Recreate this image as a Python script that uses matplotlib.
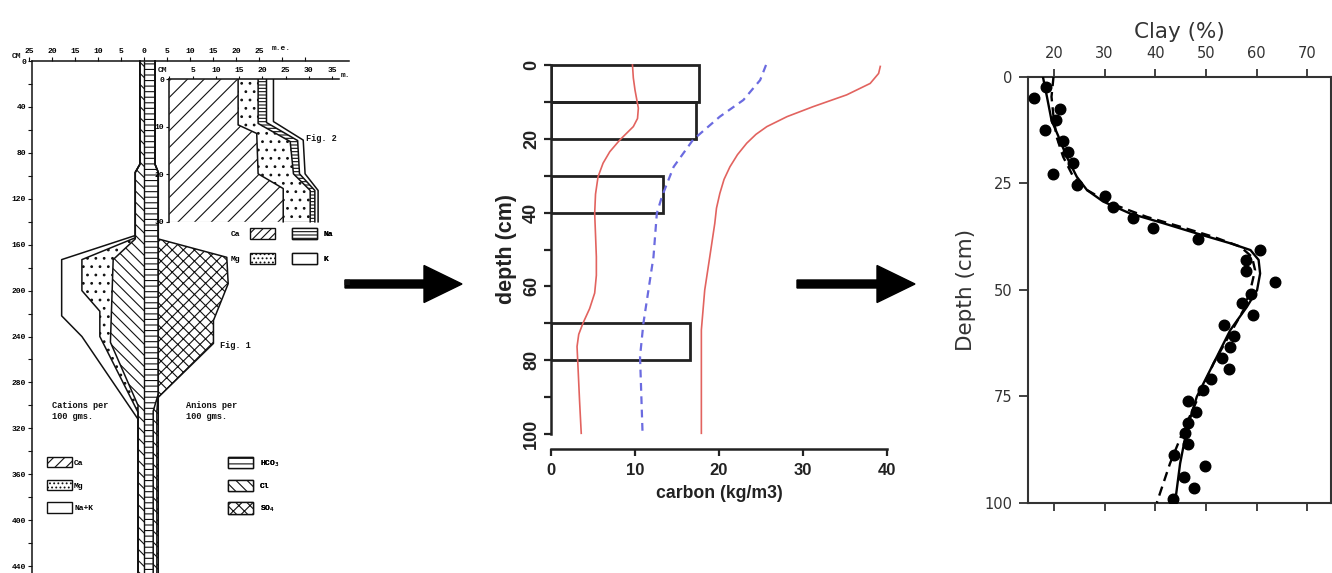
import numpy as np
import matplotlib
matplotlib.use('Agg')
import matplotlib.pyplot as plt
from matplotlib.patches import Patch, FancyArrow

W, H = 1332, 573
plt.rcParams['hatch.linewidth'] = 0.8

# ---------------- Panel 1 : Fig. 1 salt profile (m.e. per 100 g, depth cm) ----------------
f1_xticks = [-25, -20, -15, -10, -5, 0, 5, 10, 15, 20, 25, 30, 35]
f1_xlabels = ['25', '20', '15', '10', '5', '0', '5', '10', '15', '20', '25', '', '']
f1_depth_major = list(range(0, 441, 40))
f1_depth_minor = list(range(20, 441, 40))

# cations (cumulative, plotted to the left)
ca_depth = [0, 90, 97, 155, 173, 245, 300, 446]
ca_cum = [0.9, 0.9, 1.9, 1.9, 6.7, 7.3, 1.3, 1.3]
mg_depth = [0, 90, 97, 154, 173, 200, 218, 240, 306, 446]
mg_cum = [0.9, 0.9, 1.9, 1.9, 13.5, 13.5, 9.6, 9.6, 1.3, 1.3]
nak_depth = [0, 90, 97, 152, 173, 222, 240, 312, 446]
nak_cum = [0.9, 0.9, 1.9, 1.9, 17.9, 17.9, 13.5, 1.3, 1.3]
# anions (cumulative, plotted to the right)
hco3_depth = [0, 90, 97, 290, 305, 446]
hco3_cum = [2.4, 2.4, 3.1, 3.1, 2.0, 2.0]
cl_depth = [0, 90, 97, 290, 305, 446]
cl_cum = [2.4, 2.4, 3.1, 3.1, 2.8, 2.8]
so4_depth = [0, 90, 97, 155, 171, 194, 226, 246, 293, 446]
so4_cum = [2.4, 2.4, 3.1, 3.1, 18.0, 18.3, 15.1, 15.1, 3.1, 3.1]

# ---------------- Fig. 2 inset (0-30 cm) ----------------
f2_xticks = [0, 5, 10, 15, 20, 25, 30, 35]
f2_xlabels = ['', '5', '10', '15', '20', '25', '30', '35']
f2_yticks = [0, 10, 20, 30]
ca2_depth = [0, 9.6, 11.4, 19.9, 23.0, 30]
ca2_cum = [14.8, 14.8, 18.8, 19.1, 24.5, 24.5]
mg2_depth = [0, 9.3, 13.1, 19.9, 23.4, 30]
mg2_cum = [19.1, 19.1, 26.0, 26.7, 30.3, 30.3]
na2_depth = [0, 9.1, 12.9, 19.9, 23.4, 30]
na2_cum = [20.9, 20.9, 27.6, 28.0, 31.3, 31.3]
k2_depth = [0, 8.9, 12.8, 19.9, 23.4, 30]
k2_cum = [22.4, 22.4, 28.8, 29.2, 32.0, 32.0]

# ---------------- Panel 2 : carbon (kg/m3) vs depth ----------------
bar_top = [0, 10, 30, 70]
bar_thick = [10, 10, 10, 10]
bar_carbon = [17.6, 17.3, 13.3, 16.5]
red1_depth = [0, 3.5, 6.8, 11.7, 14.5, 16.7, 20.3, 23.5, 26.6, 30.3, 35, 40.2, 46, 52, 57, 61.8, 66,
              70, 73, 76.3, 83.6, 91, 99.8]
red1_c = [9.7, 9.8, 10.0, 10.4, 10.3, 9.8, 8.2, 7.0, 6.2, 5.6, 5.3, 5.2, 5.3, 5.4, 5.4, 5.2, 4.6,
          3.8, 3.3, 3.1, 3.25, 3.4, 3.6]
blue_depth = [0, 4.1, 9.5, 14, 20.3, 27.6, 35.7, 40.2, 52, 61, 70, 79, 99.8]
blue_c = [25.6, 24.9, 22.9, 20.1, 16.9, 14.6, 13.2, 12.6, 12.2, 11.6, 11.0, 10.6, 10.9]
red2_depth = [0.4, 2.3, 5, 8.1, 11.3, 14, 16.7, 18.8, 21.2, 24.3, 27.6, 31, 34.8, 38.8, 42.9, 52,
              61, 71.8, 99.8]
red2_c = [39.2, 39.0, 38.0, 35.2, 31.2, 28.1, 25.7, 24.4, 23.3, 22.2, 21.3, 20.6, 20.1, 19.7,
          19.5, 18.9, 18.3, 17.9, 17.9]

# ---------------- Panel 3 : clay (%) vs depth ----------------
clay_obs = [18.4, 16.1, 21.2, 20.3, 18.2, 21.7, 22.8, 23.8, 19.7, 24.6, 30.1, 31.7, 35.5, 39.5,
            48.5, 60.6, 57.9, 57.9, 63.7, 58.9, 57.2, 59.3, 53.5, 55.6, 54.7, 53.1, 54.5, 51.0,
            49.4, 46.5, 48.0, 46.4, 45.8, 46.5, 43.6, 49.8, 45.6, 47.7, 43.4]
clay_obs_depth = [2.5, 4.9, 7.6, 10.2, 12.5, 15.0, 17.6, 20.2, 22.8, 25.4, 27.9, 30.5, 33.1, 35.6,
                  38.0, 40.7, 43.0, 45.6, 48.3, 50.9, 53.2, 55.9, 58.3, 60.9, 63.4, 66.1, 68.5, 71.0,
                  73.6, 76.1, 78.6, 81.2, 83.7, 86.3, 88.8, 91.4, 93.9, 96.5, 99.1]
fit_solid = [17.8, 18.6, 19.5, 20.9, 22.5, 24.5, 26.5, 29.7, 35.0, 41.6, 48.2, 54.8, 58.8, 60.4,
             60.7, 60.1, 58.1, 54.8, 51.5, 48.2, 46.2, 44.9, 43.9]
fit_solid_depth = [0, 4.7, 10.2, 14.1, 18.8, 23.5, 26.6, 29.3, 32.1, 34.4, 36.8, 39.1, 40.7, 43.0,
                   46.2, 50.1, 54.0, 59.5, 67.3, 75.1, 82.9, 90.8, 100]
fit_dash = [19.9, 19.5, 19.9, 20.5, 21.8, 23.8, 26.5, 31.1, 38.3, 44.9, 51.5, 56.8, 59.1, 59.7,
            58.8, 57.4, 51.5, 45.6, 42.9, 40.3]
fit_dash_depth = [0, 4.7, 9.4, 14.1, 18.8, 23.5, 26.6, 29.7, 32.9, 35.2, 37.6, 39.9, 42.3, 45.4,
                  50.0, 54.8, 67.3, 82.9, 90.8, 100]

fig = plt.figure(figsize=(W / 100, H / 100), dpi=100)

def fpos(x0, y0, x1, y1):
    return [x0 / W, 1 - y1 / H, (x1 - x0) / W, (y1 - y0) / H]

def ftext(px, py, s, **kw):
    fig.text(px / W, 1 - py / H, s, **kw)

MONO = dict(family='Liberation Mono', weight='bold', color='#111')
INK = '#111'

# ============ Panel 1 ============
X0, SX = 144, 4.6
Y0, SY = 61, 1.148
ax1 = fig.add_axes(fpos(0, 40, 350, 573))
ax1.set_xlim((0 - X0) / SX, (350 - X0) / SX)
ax1.set_ylim((573 - Y0) / SY, (40 - Y0) / SY)
ax1.patch.set_alpha(0)
for s in ['right', 'bottom']:
    ax1.spines[s].set_visible(False)
ax1.spines['left'].set_position(('data', -24.3))
ax1.spines['left'].set_bounds(0, 446)
ax1.spines['top'].set_position(('data', 0))
ax1.spines['top'].set_bounds(-24.3, 44.5)
for s in ['left', 'top']:
    ax1.spines[s].set_color(INK)
    ax1.spines[s].set_linewidth(1.1)
ax1.xaxis.tick_top()
ax1.set_xticks(f1_xticks)
ax1.set_xticklabels(f1_xlabels)
ax1.set_yticks(f1_depth_major)
ax1.set_yticks(f1_depth_minor, minor=True)
ax1.tick_params(axis='both', which='both', direction='out', length=3, width=0.8, color=INK,
                pad=1.5, labelsize=5.8, labelfontfamily='Liberation Mono')
for lab in ax1.get_xticklabels() + ax1.get_yticklabels():
    lab.set_fontweight('bold')

def region(ax, depth, cum, sign, hatch, lw=1.1):
    x = sign * np.asarray(cum)
    ax.fill_betweenx(depth, 0, x, facecolor='white', edgecolor=INK, linewidth=0,
                     hatch=hatch, zorder=2)
    ax.plot(x, depth, color=INK, lw=lw, zorder=3)

region(ax1, so4_depth, so4_cum, 1, 'xxx')
region(ax1, cl_depth, cl_cum, 1, '\\\\\\')
region(ax1, hco3_depth, hco3_cum, 1, '---')
region(ax1, nak_depth, nak_cum, -1, None)
region(ax1, mg_depth, mg_cum, -1, '..')
region(ax1, ca_depth, ca_cum, -1, '\\\\\\')
ax1.vlines(0, 0, nak_depth[-1], color=INK, lw=1.0, zorder=3)

ftext(16.7, 56.5, 'CM', ha='center', va='center', size=5.8, **MONO)
ftext(272, 49, 'm.e.', ha='left', va='center', size=5.8, **MONO)
ftext(306, 138.5, 'Fig. 2', ha='left', va='center', size=6.2, **MONO)
ftext(220, 346, 'Fig. 1', ha='left', va='center', size=6.2, **MONO)
ftext(51.7, 401, 'Cations per\n100 gms.', ha='left', va='top', size=6.2, linespacing=1.3, **MONO)
ftext(186, 401, 'Anions per\n100 gms.', ha='left', va='top', size=6.2, linespacing=1.3, **MONO)
ftext(350, 282, '\u25a0', ha='right', va='center', size=5, family='DejaVu Sans', color=INK)

LPROP = {'family': 'Liberation Mono', 'weight': 'bold', 'size': 5.8}
def pch(h):
    return Patch(facecolor='white', edgecolor=INK, hatch=h, linewidth=1.0)

leg_c = ax1.legend([pch('///'), pch('....'), pch(None)], ['Ca', 'Mg', 'Na+K'],
                   loc='upper left', bbox_to_anchor=(46.7 / W, 1 - 456.7 / H),
                   bbox_transform=fig.transFigure, frameon=False, prop=LPROP,
                   handlelength=3.1, handleheight=1.68, handletextpad=0.3,
                   labelspacing=1.5, borderpad=0, borderaxespad=0)
ax1.add_artist(leg_c)
leg_a = ax1.legend([pch('---'), pch('\\\\\\'), pch('xxx')], ['HCO$_3$', 'Cl', 'SO$_4$'],
                   loc='upper left', bbox_to_anchor=(228.3 / W, 1 - 457 / H),
                   bbox_transform=fig.transFigure, frameon=False, prop=LPROP,
                   handlelength=3.1, handleheight=1.8, handletextpad=0.85,
                   labelspacing=1.38, borderpad=0, borderaxespad=0)
ax1.add_artist(leg_a)

# ============ Fig. 2 inset ============
X2, SX2 = 169.3, 4.65
Y2, SY2 = 79.3, 4.75
ax2 = fig.add_axes(fpos(X2, Y2, 350, 225))
ax2.set_xlim(0, (350 - X2) / SX2)
ax2.set_ylim((225 - Y2) / SY2, 0)
ax2.patch.set_alpha(0)
for s in ['right', 'bottom']:
    ax2.spines[s].set_visible(False)
ax2.spines['left'].set_bounds(0, 30)
ax2.spines['top'].set_bounds(0, 36.5)
for s in ['left', 'top']:
    ax2.spines[s].set_color(INK)
    ax2.spines[s].set_linewidth(1.1)
ax2.xaxis.tick_top()
ax2.set_xticks(f2_xticks)
ax2.set_xticklabels(f2_xlabels)
ax2.set_yticks(f2_yticks)
ax2.tick_params(axis='both', direction='out', length=2.5, width=0.8, color=INK, pad=1.2,
                labelsize=5.8, labelfontfamily='Liberation Mono')
for lab in ax2.get_xticklabels() + ax2.get_yticklabels():
    lab.set_fontweight('bold')
region(ax2, k2_depth, k2_cum, 1, None)
region(ax2, na2_depth, na2_cum, 1, '-----')
region(ax2, mg2_depth, mg2_cum, 1, '..')
region(ax2, ca2_depth, ca2_cum, 1, '//')
ftext(163, 70.5, 'CM', ha='center', va='center', size=5.8, **MONO)
ftext(341, 75.5, 'm.', ha='left', va='center', size=5.8, **MONO)

leg2a = ax2.legend([pch('////'), pch('....')], ['Ca', 'Mg'], loc='upper right',
                   bbox_to_anchor=(275 / W, 1 - 227.7 / H), bbox_transform=fig.transFigure,
                   frameon=False, prop=LPROP, markerfirst=False, handlelength=3.1,
                   handleheight=1.72, handletextpad=1.2, labelspacing=1.75,
                   borderpad=0, borderaxespad=0)
ax2.add_artist(leg2a)
leg2b = ax2.legend([pch('-----'), pch(None)], ['Na', 'K'], loc='upper left',
                   bbox_to_anchor=(291.7 / W, 1 - 227.7 / H), bbox_transform=fig.transFigure,
                   frameon=False, prop=LPROP, markerfirst=True, handlelength=3.1,
                   handleheight=1.72, handletextpad=0.9, labelspacing=1.75,
                   borderpad=0, borderaxespad=0)
ax2.add_artist(leg2b)

# ============ Panel 2 ============
BOLD = dict(family='Liberation Sans', weight='bold')
ax3 = fig.add_axes(fpos(551, 50.2, 887, 448.8))
ax3.set_xlim(0, 40)
ax3.set_ylim(104, -4)
ax3.patch.set_alpha(0)
for s in ['top', 'right']:
    ax3.spines[s].set_visible(False)
ax3.spines['left'].set_bounds(0, 100)
ax3.spines['bottom'].set_bounds(0, 40)
for s in ['left', 'bottom']:
    ax3.spines[s].set_linewidth(1.8)
    ax3.spines[s].set_color('#222')
ax3.barh([t + h / 2 for t, h in zip(bar_top, bar_thick)], bar_carbon, height=bar_thick, left=0,
         fill=False, edgecolor='#222', linewidth=2.0, zorder=2)
ax3.plot(red1_c, red1_depth, color='#e2635f', lw=1.2, zorder=3)
ax3.plot(blue_c, blue_depth, color='#6b6be0', lw=1.6, ls=(0, (3.5, 2.5)), zorder=3)
ax3.plot(red2_c, red2_depth, color='#e2635f', lw=1.2, zorder=3)
ax3.set_xticks([0, 10, 20, 30, 40])
ax3.set_yticks([0, 20, 40, 60, 80, 100])
ax3.set_yticks([10, 30, 50, 70, 90], minor=True)
ax3.tick_params(axis='both', which='both', direction='out', length=5, width=1.6, color='#222')
ax3.tick_params(axis='x', labelsize=12, pad=5)
ax3.tick_params(axis='y', labelsize=13, pad=3, labelrotation=90)
for lab in ax3.get_xticklabels() + ax3.get_yticklabels():
    lab.set_fontfamily('Liberation Sans')
    lab.set_fontweight('bold')
    lab.set_color('#222')
for lab in ax3.get_yticklabels():
    lab.set_va('center')
ax3.set_xlabel('carbon (kg/m3)', fontsize=12.7, labelpad=5, color='#222', **BOLD)
ax3.set_ylabel('depth (cm)', fontsize=15.5, labelpad=4, color='#222', **BOLD)

# ============ Panel 3 ============
ax4 = fig.add_axes(fpos(1027.7, 76.7, 1331, 502.7))
ax4.set_xlim(14.8, 74.7)
ax4.set_ylim(100, 0)
for s in ax4.spines.values():
    s.set_linewidth(1.5)
    s.set_color('#333')
ax4.plot(clay_obs, clay_obs_depth, 'o', color='black', ms=7.6, zorder=4)
ax4.plot(fit_solid, fit_solid_depth, color='black', lw=1.7, zorder=3)
ax4.plot(fit_dash, fit_dash_depth, color='black', lw=1.7, ls=(0, (4, 2.5)), zorder=3)
ax4.set_xticks([20, 30, 40, 50, 60, 70])
ax4.set_yticks([0, 25, 50, 75, 100])
ax4.tick_params(axis='x', top=True, bottom=True, labeltop=True, labelbottom=False,
                direction='out', length=6, width=1.3, color='#333', labelsize=10.5,
                labelcolor='#333', pad=5)
ax4.tick_params(axis='y', left=True, right=False, direction='out', length=6.5, width=1.3,
                color='#333', labelsize=10.5, labelcolor='#333', pad=4.5)
ax4.xaxis.set_label_position('top')
ax4.set_xlabel('Clay (%)', fontsize=15.5, color='#333', labelpad=6, family='DejaVu Sans')
ax4.set_ylabel('Depth (cm)', fontsize=15.5, color='#333', labelpad=6, family='DejaVu Sans')

# ============ arrows ============
axo = fig.add_axes([0, 0, 1, 1])
axo.set_xlim(0, W)
axo.set_ylim(H, 0)
axo.axis('off')
axo.patch.set_alpha(0)
for xs, xe in [(345, 462), (797, 915)]:
    axo.add_patch(FancyArrow(xs, 284, xe - xs, 0, width=8, head_width=37, head_length=38,
                             length_includes_head=True, color='black'))

fig.savefig('out.png', dpi=100)
